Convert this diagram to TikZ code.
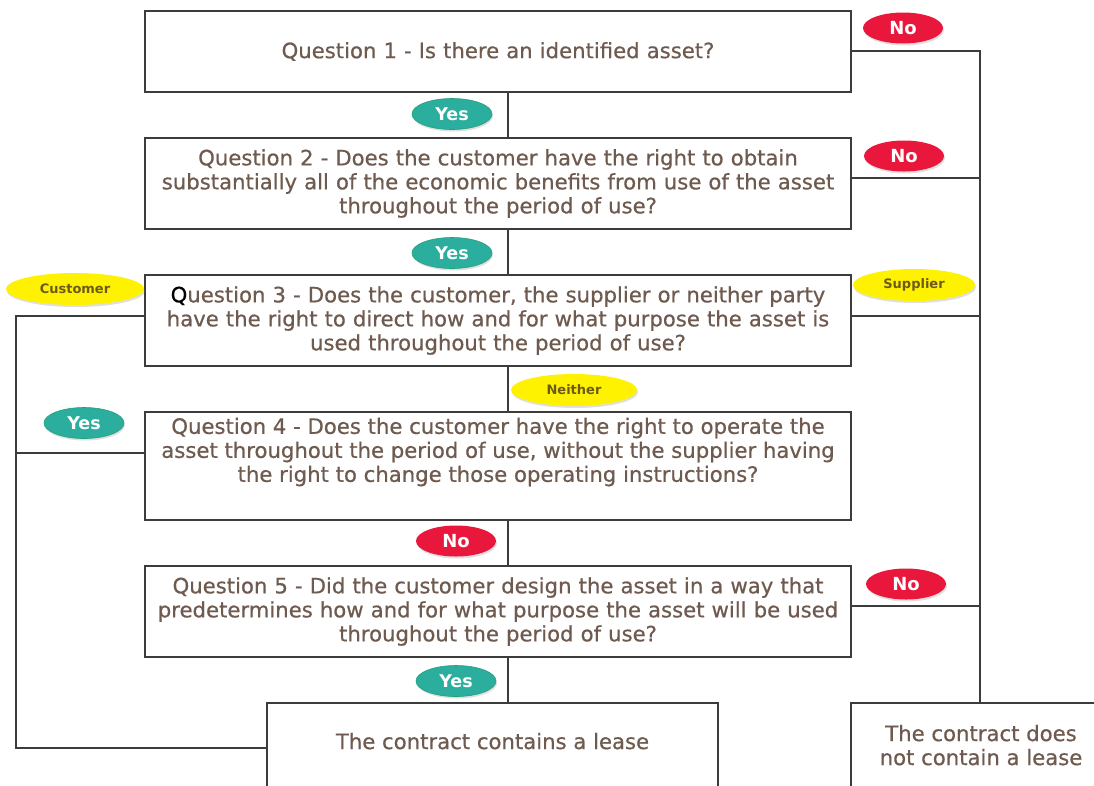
\documentclass[tikz,border=0pt]{standalone}
\usepackage{fontspec}
\setmainfont{DejaVu Sans}
\newfontfamily\qfont[FakeBold=0.5]{DejaVu Sans}
\usetikzlibrary{shapes.geometric,shadows}
\definecolor{qtext}{HTML}{6E5A4E}
\definecolor{lineg}{HTML}{3C3C3C}
\definecolor{nored}{HTML}{EA173D}
\definecolor{yesteal}{HTML}{2BAE9E}
\definecolor{yesedge}{HTML}{22A07A}
\definecolor{ylw}{HTML}{FFF200}
\definecolor{ytext}{HTML}{6B5B16}
\tikzset{
  qfontstyle/.style={font=\qfont\fontsize{21.2}{24}\selectfont},
  qbox/.style={draw=lineg, line width=1.3pt, fill=white, minimum width=706pt, text width=704pt,
    align=center, inner sep=0pt, text=qtext, qfontstyle},
  endbox/.style={draw=lineg, line width=1.3pt, fill=white, inner sep=0pt, align=center,
    text=qtext, qfontstyle},
  conn/.style={draw=lineg, line width=1.3pt},
  tag/.style={ellipse, inner sep=0pt, drop shadow={shadow xshift=1pt, shadow yshift=-2pt, opacity=0.25}},
  notag/.style={tag, fill=nored, minimum width=80pt, minimum height=31pt, text=white, font=\fontsize{18}{18}\selectfont\bfseries},
  yestag/.style={tag, fill=yesteal, draw=yesedge, line width=0.6pt, minimum width=80pt, minimum height=31pt, text=white, font=\fontsize{17.5}{18}\selectfont\bfseries},
  ytag/.style={tag, fill=ylw, minimum height=32pt, text=ytext, font=\fontsize{13}{13}\selectfont\bfseries},
}
\begin{document}
\begin{tikzpicture}[x=1pt,y=-1pt]
\useasboundingbox (0,0) rectangle (1094,785);
\clip (0,0) rectangle (1094,785);
\fill[white] (0,0) rectangle (1094,785);
\coordinate (rv) at (980,0);
\coordinate (lv) at (16,0);
\coordinate (mv) at (508,0);
% boxes
\node[qbox, minimum height=81pt] (q1) at (498,51.5) {Question 1 - Is there an identified asset?\\[-18pt]};
\node[qbox, minimum height=91pt] (q2) at (498,183.5) {Question 2 - Does the customer have the right to obtain\\substantially all of the economic benefits from use of the asset\\throughout the period of use?\\[-16pt]};
\node[qbox, minimum height=91pt] (q3) at (498,320.5) {{\color{black}Q}uestion 3 - Does the customer, the supplier or neither party\\have the right to direct how and for what purpose the asset is\\used throughout the period of use?\\[-18pt]};
\node[qbox, minimum height=108pt] (q4) at (498,466) {};
\node[text=qtext, align=center, inner sep=0pt, qfontstyle] (q4t) at (498,452) {Question 4 - Does the customer have the right to operate the\\asset throughout the period of use, without the supplier having\\the right to change those operating instructions?};
\node[qbox, minimum height=91pt] (q5) at (498,611.5) {Question 5 - Did the customer design the asset in a way that\\predetermines how and for what purpose the asset will be used\\throughout the period of use?\\[-16pt]};
\node[endbox, minimum width=451pt, minimum height=90pt] (lease) at (492.5,748) {The contract contains a lease\\[-10pt]};
\node[endbox, minimum width=260pt, minimum height=90pt] (nolease) at (981,748) {The contract does\\not contain a lease\\[-18pt]};
% vertical chain
\draw[conn] (q1.south -| mv) -- (q2.north -| mv);
\draw[conn] (q2.south -| mv) -- (q3.north -| mv);
\draw[conn] (q3.south -| mv) -- (q4.north -| mv);
\draw[conn] (q4.south -| mv) -- (q5.north -| mv);
\draw[conn] (q5.south -| mv) -- (lease.north -| mv);
% right side
\draw[conn] ([yshift=0.5pt]q1.east) -| (nolease.north -| rv);
\draw[conn] ([yshift=5.5pt]q2.east) -- ([yshift=5.5pt]q2.east -| rv);
\draw[conn] ([yshift=4.5pt]q3.east) -- ([yshift=4.5pt]q3.east -| rv);
\draw[conn] ([yshift=5.5pt]q5.east) -- ([yshift=5.5pt]q5.east -| rv);
% left side
\draw[conn] ([yshift=4.5pt]q3.west) -| (lv |- lease.west) -- (lease.west);
\draw[conn] ([yshift=13pt]q4.west) -- ([yshift=13pt]q4.west -| lv);
% tags
\node[notag] (n1) at (903,28) {No};
\node[yestag] (y1) at (452,114) {Yes};
\node[notag] (n2) at (904,156) {No};
\node[yestag] (y2) at (452,253) {Yes};
\node[ytag, minimum width=138pt] (cust) at (75,289) {Customer};
\node[ytag, minimum width=122pt] (supp) at (914,285) {Supplier};
\node[ytag, minimum width=126pt] (neith) at (574,390) {Neither};
\node[yestag] (y3) at (84,423) {Yes};
\node[notag] (n3) at (456,541) {No};
\node[notag] (n4) at (906,584) {No};
\node[yestag] (y4) at (456,681) {Yes};
\end{tikzpicture}
\end{document}
